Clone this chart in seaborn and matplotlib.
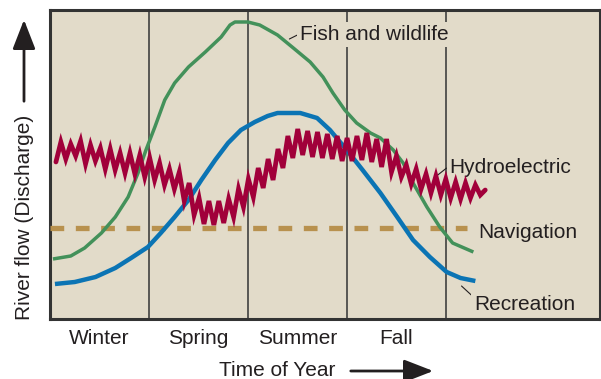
import numpy as np
import matplotlib
matplotlib.use('Agg')
import matplotlib.pyplot as plt
import seaborn as sns

# season axis: 1 unit = one season, boundaries at 1..4
seasons = ['Winter', 'Spring', 'Summer', 'Fall']
season_centres = [0.5, 1.5, 2.5, 3.5]
season_bounds = [1, 2, 3, 4]

# Fish and wildlife flow
fish_x = [0.03, 0.21, 0.35, 0.52, 0.66, 0.79, 0.89, 0.97, 1.06, 1.16, 1.26, 1.40, 1.57,
          1.73, 1.82, 1.87, 2.00, 2.12, 2.30, 2.46, 2.63, 2.76, 2.86, 2.98, 3.10, 3.24,
          3.34, 3.47, 3.57, 3.67, 3.81, 3.94, 4.07, 4.28]
fish_y = [60, 63, 71, 86, 102, 122, 146, 169, 192, 219, 236, 252, 267,
          282, 294, 297, 297, 294, 284, 271, 257, 242, 226, 209, 196, 186,
          181, 169, 156, 136, 112, 92, 76, 67]

# Recreation flow
rec_x = [0.05, 0.25, 0.46, 0.66, 0.82, 0.99, 1.12, 1.26, 1.40, 1.53, 1.67, 1.80, 1.93,
         2.07, 2.20, 2.30, 2.53, 2.70, 2.83, 3.00, 3.16, 3.34, 3.51, 3.67, 3.84, 4.01,
         4.15, 4.30]
rec_y = [35, 37, 42, 51, 61, 72, 86, 102, 119, 139, 159, 176, 189,
         197, 203, 206, 206, 201, 189, 169, 149, 126, 102, 79, 62, 47,
         41, 38]

# Hydroelectric flow (zig-zag)
hydro_y = [157, 177, 160, 175, 163, 178, 155, 174, 158, 171, 150, 170, 149, 166, 146, 166,
           145, 164, 142, 161, 139, 156, 134, 150, 130, 147, 118, 136, 104, 121, 95, 118,
           94, 118, 96, 120, 102, 130, 112, 140, 122, 151, 131, 160, 139, 170, 151, 183,
           161, 190, 164, 188, 162, 187, 161, 185, 160, 183, 158, 181, 158, 183, 159, 186,
           157, 180, 152, 180, 147, 163, 142, 154, 135, 150, 130, 145, 126, 143, 124, 140,
           121, 137, 120, 136, 121, 134, 124, 129]
hydro_x = np.linspace(0.06, 4.40, len(hydro_y))

# Navigation flow (constant)
nav_x = [0.0, 4.22]
nav_y = [91, 91]

bg = '#e2dbc9'
ink = '#231f20'
green = '#43915a'
blue = '#0b74b4'
crimson = '#a1003a'
tan = '#b8914e'

sns.set_style('white')
plt.rcParams['font.family'] = ['Liberation Sans', 'DejaVu Sans']

fig = plt.figure(figsize=(6.01, 3.79), dpi=100)
ax = fig.add_axes([50 / 601, 60 / 379, 550 / 601, 309 / 379])
ax.set_facecolor(bg)

for b in season_bounds:
    ax.axvline(b, color='#333333', lw=1.1, zorder=1)

sns.lineplot(x=nav_x, y=nav_y, ax=ax, color=tan, lw=3.8, zorder=3,
             dashes=False, linestyle=(0, (2.6, 2.2)))
sns.lineplot(x=fish_x, y=fish_y, ax=ax, color=green, lw=2.5, zorder=3,
             solid_joinstyle='round', solid_capstyle='butt')
sns.lineplot(x=rec_x, y=rec_y, ax=ax, color=blue, lw=3.2, zorder=3,
             solid_joinstyle='round', solid_capstyle='butt')
sns.lineplot(x=hydro_x, y=hydro_y, ax=ax, color=crimson, lw=3.4, zorder=4,
             solid_joinstyle='miter')

lbl = dict(fontsize=15, color=ink, va='baseline', ha='left', zorder=2,
           bbox=dict(boxstyle='square,pad=0.15', fc=bg, ec='none'))
lead = dict(arrowstyle='-', color=ink, lw=0.8, shrinkA=0, shrinkB=0)

ax.annotate('Fish and wildlife', xy=(2.42, 280), xytext=(2.53, 279),
            arrowprops=dict(relpos=(0, 0.55), **lead), **lbl)
ax.annotate('Hydroelectric', xy=(3.92, 144), xytext=(4.04, 146),
            arrowprops=dict(relpos=(0, 0.6), **lead), **lbl)
ax.text(4.33, 81, 'Navigation', **lbl)
ax.annotate('Recreation', xy=(4.16, 33), xytext=(4.29, 9),
            arrowprops=dict(relpos=(0, 0.85), **lead), **lbl)

ax.set_xlim(0, 5.56)
ax.set_ylim(0, 309)
ax.set_xticks(season_centres, seasons, fontsize=15, color=ink)
ax.tick_params(axis='x', length=0, pad=7)
ax.set_yticks([])
ax.set_xlabel('')
ax.set_ylabel('')
for s in ax.spines.values():
    s.set_color('#333333')
    s.set_linewidth(2.2)

# axis titles with arrows
fig.text(277 / 601, 3 / 379, 'Time of Year', fontsize=15, color=ink, ha='center', va='baseline')
fig.text(25 / 601, 1 - 217 / 379, 'River flow (Discharge)', fontsize=15, color=ink,
         rotation=90, ha='center', va='center')
fig.add_artist(matplotlib.patches.FancyArrowPatch(
    (348 / 601, 1 - 371 / 379), (436 / 601, 1 - 371 / 379), transform=fig.transFigure,
    arrowstyle='-|>,head_length=0.9,head_width=0.35', mutation_scale=20, lw=2, color=ink))
fig.add_artist(matplotlib.patches.FancyArrowPatch(
    (24 / 601, 1 - 104 / 379), (24 / 601, 1 - 17 / 379), transform=fig.transFigure,
    arrowstyle='-|>,head_length=0.9,head_width=0.35', mutation_scale=20, lw=2, color=ink))

fig.savefig('out.png', dpi=100)
